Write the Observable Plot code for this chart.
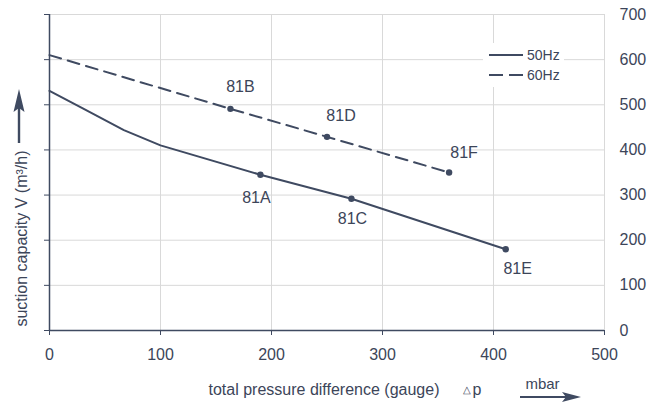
<!DOCTYPE html>
<html>
<head>
<meta charset="utf-8">
<script src="https://cdn.jsdelivr.net/npm/d3@7"></script>
<script src="https://cdn.jsdelivr.net/npm/@observablehq/plot@0.6"></script>
<style>
  html, body { margin: 0; padding: 0; background: #fff; }
</style>
</head>
<body>
<div id="chart"></div>
<script>
// ---- data ----
const pressure50 = [0, 30, 67, 100, 190, 272, 411];
const capacity50 = [531, 492, 444, 410, 345, 292, 180];
const pressure60 = [0, 163, 250, 360];
const capacity60 = [610, 491, 429, 350];

const pointNames    = ["81A", "81C", "81E", "81B", "81D", "81F"];
const pointSeries   = ["50Hz", "50Hz", "50Hz", "60Hz", "60Hz", "60Hz"];
const pointPressure = [190, 272, 411, 163, 250, 360];
const pointCapacity = [345, 292, 180, 491, 429, 350];

const seriesNames = ["50Hz", "60Hz"];
const xTicks = [0, 100, 200, 300, 400, 500];
const yTicks = [0, 100, 200, 300, 400, 500, 600, 700];

const xLabel = "total pressure difference (gauge)";
const yLabel = "suction capacity V (m³/h)";
const unitLabel = "mbar";

// ---- build tables ----
const line50 = pressure50.map((p, i) => ({p, v: capacity50[i]}));
const line60 = pressure60.map((p, i) => ({p, v: capacity60[i]}));
const points = pointNames.map((n, i) => ({name: n, series: pointSeries[i], p: pointPressure[i], v: pointCapacity[i]}));

// label offsets (style only)
const labelDx = {"81A": -4, "81C": 1, "81E": 12, "81B": 10, "81D": 14, "81F": 15};
const labelDy = {"81A": 23, "81C": 20, "81E": 20, "81B": -22, "81D": -21, "81F": -20};

const ink = "#3f4a61";
const textInk = "#3c4559";
const grid = "#d9d9d9";

const labelMarks = points.map(pt =>
  Plot.text([pt], {x: "p", y: "v", text: "name", fontSize: 16, fill: textInk, dx: labelDx[pt.name], dy: labelDy[pt.name]})
);

const svg = Plot.plot({
  width: 664,
  height: 403,
  marginLeft: 49,
  marginRight: 60,
  marginTop: 14,
  marginBottom: 73,
  style: {fontFamily: "'Liberation Sans', Arial, sans-serif", fontSize: "16px", color: textInk, background: "#fff"},
  x: {domain: [0, 500]},
  y: {domain: [0, 700]},
  marks: [
    Plot.gridY(yTicks.slice(1), {stroke: grid, strokeOpacity: 1}),
    Plot.gridX(xTicks.slice(1), {stroke: grid, strokeOpacity: 1}),
    Plot.axisY(yTicks, {anchor: "right", tickSize: 0, tickPadding: 15, fontSize: 16, label: null}),
    Plot.axisY(yTicks, {anchor: "left", tickSize: 5, tickFormat: () => "", label: null, stroke: ink}),
    Plot.axisX(xTicks, {anchor: "bottom", tickSize: 5, tickPadding: 13, fontSize: 16, label: null, stroke: ink}),
    Plot.ruleX([0], {stroke: ink, strokeWidth: 1.5}),
    Plot.ruleY([0], {stroke: ink, strokeWidth: 1.5}),
    Plot.line(line50, {x: "p", y: "v", stroke: ink, strokeWidth: 2}),
    Plot.line(line60, {x: "p", y: "v", stroke: ink, strokeWidth: 2, strokeDasharray: "12,7"}),
    Plot.dot(points, {x: "p", y: "v", r: 3.2, fill: ink, stroke: "none"}),
    ...labelMarks,
    // axis titles
    Plot.text([xLabel], {frameAnchor: "bottom-left", text: d => d, textAnchor: "start", dx: 159, dy: 64, fontSize: 16, fill: textInk}),
    Plot.text(["△"], {frameAnchor: "bottom-left", text: d => d, textAnchor: "start", dx: 413, dy: 62, fontSize: 10, fill: textInk}),
    Plot.text(["p"], {frameAnchor: "bottom-left", text: d => d, textAnchor: "start", dx: 423, dy: 64, fontSize: 16, fill: textInk}),
    Plot.text([unitLabel], {frameAnchor: "bottom-right", text: d => d, textAnchor: "middle", dx: -62, dy: 58, fontSize: 15, fill: textInk}),
    Plot.text([yLabel], {frameAnchor: "left", text: d => d, rotate: -90, textAnchor: "middle", dx: -28, dy: 66, fontSize: 16, fill: textInk})
  ]
});

// decorations: arrows and legend
const s = d3.select(svg);
// y arrow
s.append("line").attr("x1", 19).attr("x2", 19).attr("y1", 143).attr("y2", 105).attr("stroke", ink).attr("stroke-width", 2.4);
s.append("path").attr("d", "M19,89 L13.5,112 L19,108 L24.5,112 Z").attr("fill", ink);
// x arrow
s.append("line").attr("x1", 520).attr("x2", 568).attr("y1", 397).attr("y2", 397).attr("stroke", ink).attr("stroke-width", 2.2);
s.append("path").attr("d", "M581,397 L562,392 L566,397 L562,402 Z").attr("fill", ink);

// legend
const lg = s.append("g");
lg.append("rect").attr("x", 483).attr("y", 43).attr("width", 81).attr("height", 44).attr("fill", "#fff");
seriesNames.forEach((name, i) => {
  const y = 55 + i * 20;
  lg.append("line").attr("x1", 489).attr("x2", 523).attr("y1", y).attr("y2", y)
    .attr("stroke", ink).attr("stroke-width", 2)
    .attr("stroke-dasharray", i === 1 ? "14,6" : null);
  lg.append("text").attr("x", 527).attr("y", y).attr("dy", "0.35em")
    .attr("text-anchor", "start")
    .attr("font-size", 14).attr("fill", textInk).text(name);
});

document.getElementById("chart").appendChild(svg);
</script>
</body>
</html>
